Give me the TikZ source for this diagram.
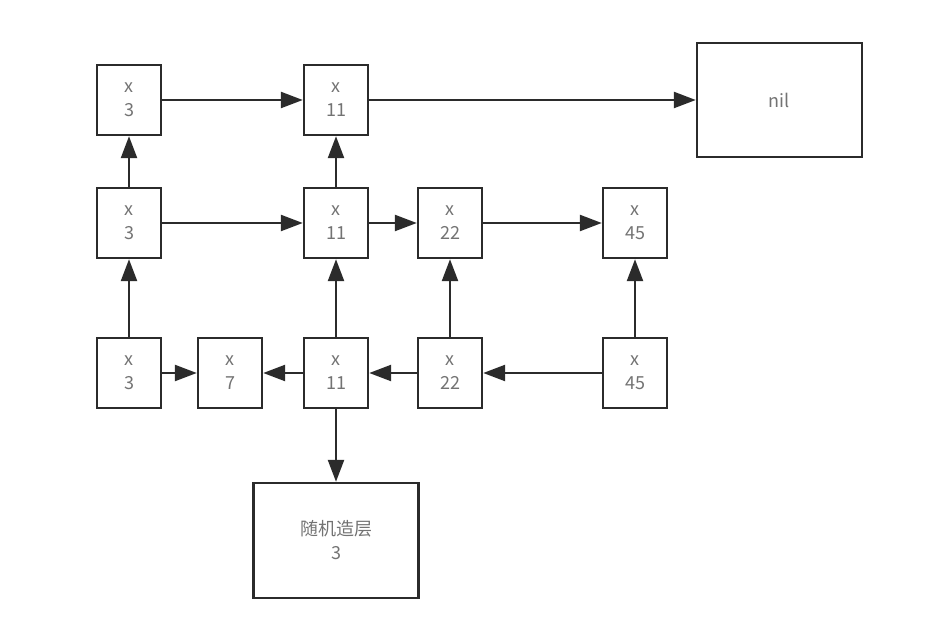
\documentclass[tikz,border=0pt]{standalone}
\usepackage{fontspec}
\setmainfont{Noto Sans CJK SC}
\usetikzlibrary{arrows.meta}
\definecolor{lineDark}{HTML}{2B2B2B}
\definecolor{textGray}{HTML}{737373}
\tikzset{
  cell/.style={draw=lineDark, line width=2.4pt, minimum width=64pt, minimum height=70pt,
    inner sep=0pt, align=center, text=textGray, font=\fontsize{18}{24}\selectfont},
  bigcell/.style={cell, minimum width=165pt, minimum height=114pt},
  link/.style={draw=lineDark, line width=2.4pt, -{Triangle[length=22pt,width=16pt]}}
}
\begin{document}
\begin{tikzpicture}[x=1pt,y=-1pt]
  \useasboundingbox (0,0) rectangle (948,636);
  % top level
  \node[cell] (a3) at (129,100) {x\\3};
  \node[cell] (a11) at (336,100) {x\\11};
  \node[bigcell] (nil) at (779.5,100) {nil};
  % middle level
  \node[cell] (b3) at (129,223) {x\\3};
  \node[cell] (b11) at (336,223) {x\\11};
  \node[cell] (b22) at (450,223) {x\\22};
  \node[cell] (b45) at (635,223) {x\\45};
  % bottom level
  \node[cell] (c3) at (129,373) {x\\3};
  \node[cell] (c7) at (230,373) {x\\7};
  \node[cell] (c11) at (336,373) {x\\11};
  \node[cell] (c22) at (450,373) {x\\22};
  \node[cell] (c45) at (635,373) {x\\45};
  \node[bigcell, minimum height=115pt] (lvl) at (336,540.5) {随机造层\\3};

  \draw[link] (a3) -- (a11);
  \draw[link] (a11) -- (nil);
  \draw[link] (b3) -- (b11);
  \draw[link] (b11) -- (b22);
  \draw[link] (b22) -- (b45);
  \draw[link] (c3) -- (c7);
  \draw[link] (c11) -- (c7);
  \draw[link] (c22) -- (c11);
  \draw[link] (c45) -- (c22);
  \foreach \lo/\hi in {c3/b3, b3/a3, c11/b11, b11/a11, c22/b22, c45/b45}
    \draw[link] (\lo) -- (\hi);
  \draw[link] (c11) -- (lvl);
\end{tikzpicture}
\end{document}
